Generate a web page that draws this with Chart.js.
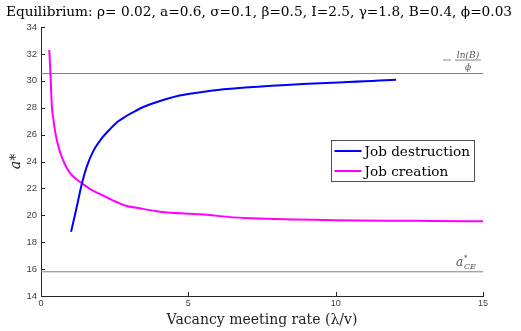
<!DOCTYPE html>
<html>
<head>
<meta charset="utf-8">
<script src="https://cdn.jsdelivr.net/npm/chart.js@4"></script>
<style>
  html, body { margin: 0; padding: 0; background: #fff; }
  #wrap { width: 521px; height: 331px; }
</style>
</head>
<body>
<div id="wrap"><canvas id="chart"></canvas></div>
<script>
// data
const destructionX = [1.02, 1.15, 1.26, 1.39, 1.55, 1.77, 2.07, 2.34, 2.6, 2.91, 3.2, 3.47, 4.04, 4.6, 5.17, 6.2, 12.05];
const destructionY = [18.78, 20.0, 21.1, 22.38, 23.6, 24.75, 25.75, 26.4, 26.95, 27.4, 27.75, 28.05, 28.5, 28.85, 29.07, 29.37, 30.07];
const creationX = [0.28, 0.32, 0.37, 0.43, 0.49, 0.57, 0.66, 0.77, 0.88, 1.0, 1.16, 1.39, 1.73, 2.07, 2.4, 2.8, 3.4, 4.04, 5.4, 6.9, 15];
const creationY = [32.3, 30.56, 28.07, 27.0, 26.1, 25.3, 24.6, 24.0, 23.5, 23.1, 22.75, 22.38, 21.88, 21.51, 21.15, 20.77, 20.5, 20.27, 20.07, 19.8, 19.55];
const upperBound = 30.54;   // -ln(B)/phi
const lowerBound = 15.8;    // a*_CE
const xRange = [0, 15];
const yRange = [14, 34];
const xStep = 5;
const yStep = 2;
const titleText = 'Equilibrium: \u03C1= 0.02, a=0.6, \u03C3=0.1, \u03B2=0.5, I=2.5, \u03B3=1.8, B=0.4, \u03D5=0.03';

const toPoints = (xs, ys) => xs.map((x, i) => ({ x: x, y: ys[i] }));

const axisColor = '#262626';
const tickColor = '#404040';
const serif = '"DejaVu Serif", "Liberation Serif", serif';

// MATLAB style inward ticks
const inwardTicks = {
  id: 'inwardTicks',
  afterDraw(chart) {
    const ctx = chart.ctx;
    const a = chart.chartArea;
    const xs = chart.scales.x, ys = chart.scales.y;
    ctx.save();
    ctx.strokeStyle = axisColor;
    ctx.lineWidth = 1;
    ctx.beginPath();
    xs.ticks.forEach(t => {
      const px = Math.round(xs.getPixelForValue(t.value)) + 0.5;
      ctx.moveTo(px, a.bottom);
      ctx.lineTo(px, a.bottom - 4);
    });
    ys.ticks.forEach(t => {
      const py = Math.round(ys.getPixelForValue(t.value)) + 0.5;
      ctx.moveTo(a.left, py);
      ctx.lineTo(a.left + 4, py);
    });
    ctx.stroke();
    ctx.restore();
  }
};

// title, labels on the two reference lines, legend box
const extras = {
  id: 'extras',
  afterDraw(chart) {
    const ctx = chart.ctx;
    const xs = chart.scales.x, ys = chart.scales.y;
    const right = xs.getPixelForValue(xRange[1]);
    ctx.save();

    // title, centred on the figure (not on the padded box)
    ctx.fillStyle = '#000';
    ctx.font = '13.7px ' + serif;
    ctx.textAlign = 'center';
    ctx.textBaseline = 'middle';
    ctx.fillText(titleText, 259, 12);

    ctx.fillStyle = '#555';
    ctx.strokeStyle = '#555';
    ctx.textBaseline = 'alphabetic';

    // -ln(B)/phi
    const yu = ys.getPixelForValue(upperBound);
    ctx.font = 'italic 9px ' + serif;
    ctx.textAlign = 'center';
    const fx = right - 15;
    ctx.fillText('ln(B)', fx, yu - 16);
    ctx.fillText('\u03D5', fx, yu - 4);
    ctx.lineWidth = 0.7;
    ctx.beginPath();
    ctx.moveTo(fx - 13, yu - 13.5);
    ctx.lineTo(fx + 13, yu - 13.5);
    ctx.stroke();
    ctx.beginPath();
    ctx.moveTo(fx - 25, yu - 13.5);
    ctx.lineTo(fx - 17, yu - 13.5);
    ctx.stroke();

    // a*_CE
    const yl = ys.getPixelForValue(lowerBound);
    ctx.textAlign = 'left';
    ctx.font = 'italic 12px ' + serif;
    ctx.fillText('a', right - 27, yl - 6);
    ctx.font = '7px ' + serif;
    ctx.fillText('*', right - 19, yl - 12);
    ctx.font = 'italic 8px ' + serif;
    ctx.fillText('CE', right - 19, yl - 3);

    // legend
    const lx = 331.5, ly = 140.5, lw = 143, lh = 41;
    ctx.fillStyle = '#fff';
    ctx.fillRect(lx, ly, lw, lh);
    ctx.strokeStyle = axisColor;
    ctx.lineWidth = 0.8;
    ctx.strokeRect(lx, ly, lw, lh);
    ctx.font = '13.6px ' + serif;
    ctx.textBaseline = 'middle';
    chart.data.datasets.slice(0, 2).forEach((ds, i) => {
      const yy = ly + 10.5 + i * 20;
      ctx.strokeStyle = ds.borderColor;
      ctx.lineWidth = 2;
      ctx.beginPath();
      ctx.moveTo(lx + 3, yy);
      ctx.lineTo(lx + 30, yy);
      ctx.stroke();
      ctx.fillStyle = '#000';
      ctx.fillText(ds.label, lx + 33, yy + 1);
    });
    ctx.restore();
  }
};

new Chart(document.getElementById('chart'), {
  type: 'line',
  data: {
    datasets: [
      {
        label: 'Job destruction',
        data: toPoints(destructionX, destructionY),
        borderColor: '#0000ff',
        borderWidth: 2,
        pointRadius: 0,
        cubicInterpolationMode: 'monotone',
        order: 1
      },
      {
        label: 'Job creation',
        data: toPoints(creationX, creationY),
        borderColor: '#ff00ff',
        borderWidth: 2,
        pointRadius: 0,
        cubicInterpolationMode: 'monotone',
        order: 2
      },
      {
        label: 'upper',
        data: toPoints(xRange, [upperBound, upperBound]),
        borderColor: '#808080',
        borderWidth: 1,
        pointRadius: 0,
        order: 3
      },
      {
        label: 'lower',
        data: toPoints(xRange, [lowerBound, lowerBound]),
        borderColor: '#808080',
        borderWidth: 1,
        pointRadius: 0,
        order: 3
      }
    ]
  },
  options: {
    responsive: true,
    maintainAspectRatio: false,
    animation: false,
    layout: { padding: { left: 0, right: 38, top: 27, bottom: 2 } },
    plugins: {
      legend: { display: false },
      tooltip: { enabled: false },
      title: { display: false }
    },
    scales: {
      x: {
        type: 'linear',
        min: xRange[0],
        max: xRange[1],
        ticks: { stepSize: xStep, color: tickColor, font: { family: 'Liberation Sans', size: 9 }, padding: 2, maxRotation: 0 },
        grid: { display: true, drawOnChartArea: false, drawTicks: false, color: axisColor },
        border: { display: true, color: axisColor, width: 1 },
        title: {
          display: true,
          text: 'Vacancy meeting rate (\u03BB/v)',
          color: '#222',
          font: { family: serif, size: 14 },
          padding: { top: 0, bottom: 0 }
        },
        afterFit: s => { s.height = 33; }
      },
      y: {
        type: 'linear',
        min: yRange[0],
        max: yRange[1],
        ticks: { stepSize: yStep, color: tickColor, font: { family: 'Liberation Sans', size: 9.5 }, padding: 4 },
        grid: { display: true, drawOnChartArea: false, drawTicks: false, color: axisColor },
        border: { display: true, color: axisColor, width: 1 },
        title: {
          display: true,
          text: 'a*',
          color: '#222',
          font: { family: serif, size: 14, style: 'italic' },
          padding: { top: 8, bottom: 0 }
        },
        afterFit: s => { s.width = 41; }
      }
    }
  },
  plugins: [inwardTicks, extras]
});
</script>
</body>
</html>
